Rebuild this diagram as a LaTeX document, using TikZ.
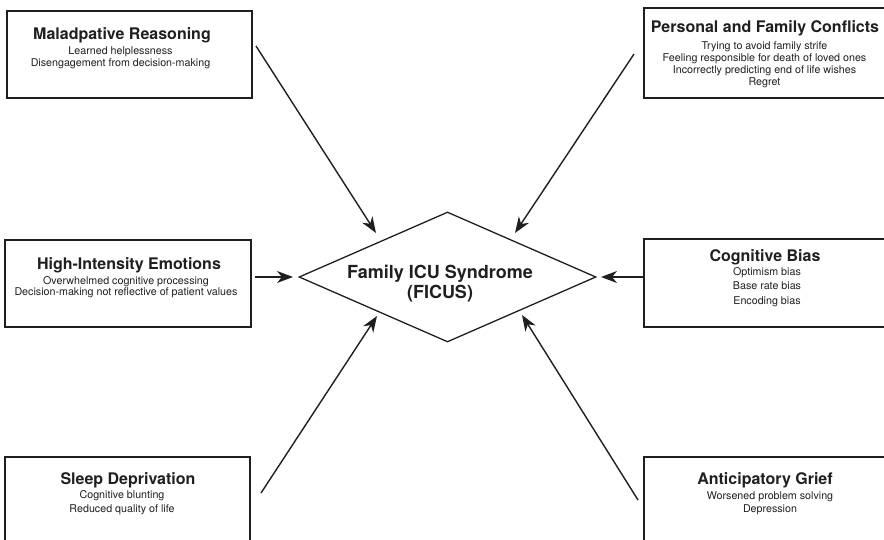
\documentclass[tikz,border=0pt]{standalone}
\usepackage{fontspec}
\setmainfont{TeX Gyre Heros}
\usetikzlibrary{shapes.geometric,arrows.meta}
\definecolor{ink}{gray}{0.12}

\begin{document}
\begin{tikzpicture}[x=1pt,y=-1pt,
  box/.style={draw=ink, line width=1.5pt, rectangle, inner sep=0pt},
  ttl/.style={anchor=base, inner sep=0pt, text=ink, font=\fontsize{16}{19}\selectfont\bfseries},
  itm/.style={anchor=base, inner sep=0pt, text=ink, font=\fontsize{10.7}{12}\selectfont},
  core/.style={anchor=base, inner sep=0pt, text=ink, font=\fontsize{18}{21}\selectfont\bfseries},
  link/.style={draw=ink, line width=1.4pt, -{Stealth[length=16pt,width=12pt,inset=5pt]}},
]
\useasboundingbox (0,0) rectangle (884,540);
\clip (0,0) rectangle (884,540);

% central diamond
\node[draw=ink, line width=1.3pt, diamond, aspect=2.3, inner sep=0pt,
      minimum width=297pt, minimum height=130pt] (fic) at (447.5,277) {};
\node[core] (fic1) at (440,278.3) {Family ICU Syndrome};
\node[core] (fic2) at (440,298.3) {(FICUS)};

% factor boxes
\node[box, minimum width=245pt, minimum height=87pt]  (mr) at (129.5,54.5) {};
\node[box, minimum width=260pt, minimum height=90pt]  (pf) at (774,53) {};
\node[box, minimum width=246pt, minimum height=87pt]  (he) at (128,283.5) {};
\node[box, minimum width=260pt, minimum height=88pt]  (cb) at (774,283) {};
\node[box, minimum width=245pt, minimum height=110pt] (sd) at (127.5,512) {};
\node[box, minimum width=260pt, minimum height=110pt] (ag) at (774,512) {};

% Maladaptive reasoning
\node[ttl] (mr-t) at (122,39.5) {Maladpative Reasoning};
\node[itm] (mr-1) at (120.5,55) {Learned helplessness};
\node[itm] (mr-2) at (120.5,66.7) {Disengagement from decision-making};

% Personal and family conflicts
\node[ttl] (pf-t) at (765,32.3) {Personal and Family Conflicts};
\node[itm] (pf-1) at (764.5,50) {Trying to avoid family strife};
\node[itm] (pf-2) at (764.5,61.7) {Feeling responsible for death of loved ones};
\node[itm] (pf-3) at (764.5,73.4) {Incorrectly predicting end of life wishes};
\node[itm] (pf-4) at (764.5,85.1) {Regret};

% High-intensity emotions
\node[ttl] (he-t) at (129,269.3) {High-Intensity Emotions};
\node[itm] (he-1) at (126,284.3) {Overwhelmed cognitive processing};
\node[itm] (he-2) at (126,296) {Decision-making not reflective of patient values};

% Cognitive bias
\node[ttl] (cb-t) at (765,261.7) {Cognitive Bias};
\node[itm] (cb-1) at (767,275.7) {Optimism bias};
\node[itm] (cb-2) at (767,290) {Base rate bias};
\node[itm] (cb-3) at (767,304.2) {Encoding bias};

% Sleep deprivation
\node[ttl] (sd-t) at (128,484.3) {Sleep Deprivation};
\node[itm] (sd-1) at (122,498.7) {Cognitive blunting};
\node[itm] (sd-2) at (122,512.7) {Reduced quality of life};

% Anticipatory grief
\node[ttl] (ag-t) at (765,484.3) {Anticipatory Grief};
\node[itm] (ag-1) at (770,499) {Worsened problem solving};
\node[itm] (ag-2) at (770,512.7) {Depression};

% connector ends
\coordinate (mr-o) at (256,46);
\coordinate (mr-i) at (376,233);
\coordinate (pf-o) at (634,54);
\coordinate (pf-i) at (515,233);
\coordinate (he-o) at (255,277);
\coordinate (he-i) at (293,277);
\coordinate (cb-o) at (644,277);
\coordinate (cb-i) at (601,277);
\coordinate (sd-o) at (261,493);
\coordinate (sd-i) at (377,316);
\coordinate (ag-o) at (638,500);
\coordinate (ag-i) at (522,315);

\draw[link] (mr-o) -- (mr-i);
\draw[link] (pf-o) -- (pf-i);
\draw[link] (he-o) -- (he-i);
\draw[link] (cb-o) -- (cb-i);
\draw[link] (sd-o) -- (sd-i);
\draw[link] (ag-o) -- (ag-i);
\end{tikzpicture}
\end{document}
